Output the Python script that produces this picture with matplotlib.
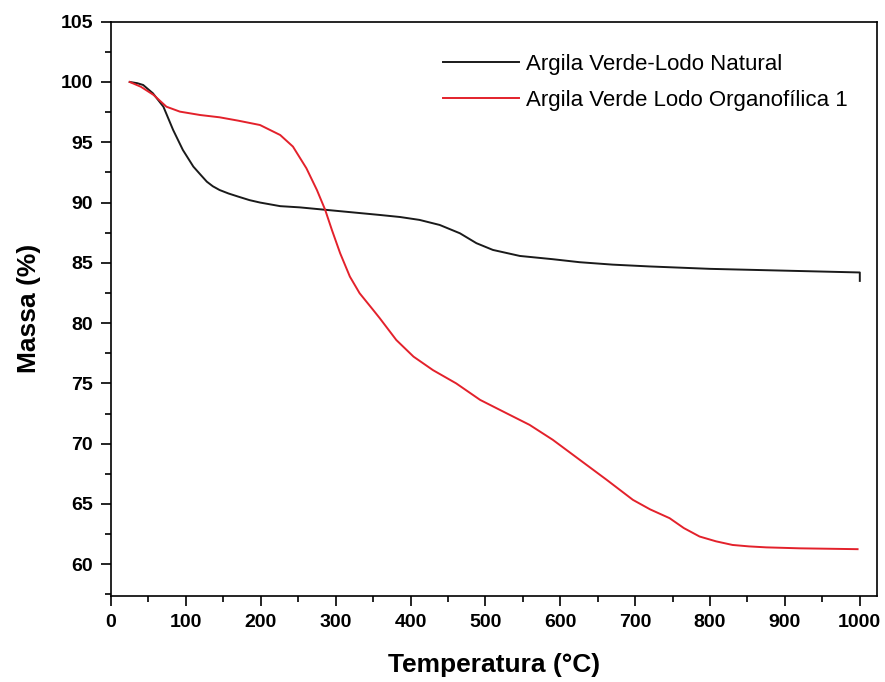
import numpy as np
import matplotlib.pyplot as plt
from matplotlib.ticker import MultipleLocator

plt.rcParams['font.family'] = ['Liberation Sans', 'DejaVu Sans']

# Argila Verde-Lodo Natural (curva preta)
temp_natural = [25, 35, 43, 56, 70, 83, 96, 110, 119, 128, 136, 145, 157, 170,
                185, 199, 226, 252, 286, 320, 359, 386, 412, 439, 466, 488,
                510, 546, 590, 626, 670, 719, 800, 900, 1000, 1000]
massa_natural = [100.0, 99.9, 99.75, 99.06, 97.95, 96.02, 94.36, 92.98, 92.35,
                 91.73, 91.35, 91.04, 90.75, 90.49, 90.2, 90.0, 89.7, 89.6,
                 89.4, 89.2, 88.97, 88.8, 88.56, 88.14, 87.45, 86.63, 86.07,
                 85.57, 85.3, 85.05, 84.85, 84.7, 84.5, 84.35, 84.2, 83.5]

# Argila Verde Lodo Organofilica 1 (curva vermelha)
temp_organo = [25, 40, 57, 74, 92, 119, 145, 170, 199, 226, 243, 261, 275, 286,
               295, 306, 319, 332, 350, 359, 381, 404, 430, 461, 493, 528, 559,
               590, 626, 662, 697, 720, 746, 765, 786, 808, 830, 852, 875, 920,
               997]
massa_organo = [100.0, 99.6, 98.92, 97.95, 97.54, 97.26, 97.07, 96.79, 96.43,
                95.6, 94.64, 92.84, 91.04, 89.4, 87.73, 85.8, 83.86, 82.48, 81.1,
                80.4, 78.6, 77.22, 76.1, 75.0, 73.63, 72.53, 71.56, 70.32, 68.66,
                67.0, 65.34, 64.55, 63.82, 63.0, 62.3, 61.9, 61.6, 61.48, 61.4,
                61.32, 61.25]

fig = plt.figure(figsize=(8.85, 6.82), dpi=100)
ax = fig.add_axes([0.1254, 0.1267, 0.8656, 0.8415])

ax.plot(temp_natural, massa_natural, color='#1a1a1a', lw=1.4,
        label='Argila Verde-Lodo Natural')
ax.plot(temp_organo, massa_organo, color='#e3212b', lw=1.4,
        label='Argila Verde Lodo Organofílica 1')

ax.set_xlim(0, 1023)
ax.set_ylim(57.4, 105)
ax.xaxis.set_major_locator(MultipleLocator(100))
ax.xaxis.set_minor_locator(MultipleLocator(50))
ax.yaxis.set_major_locator(MultipleLocator(5))
ax.yaxis.set_minor_locator(MultipleLocator(2.5))
ax.tick_params(which='both', direction='out', top=False, right=False, width=1.2)
ax.tick_params(which='major', length=7, labelsize=14, pad=6)
ax.tick_params(which='minor', length=4)
for lab in ax.get_xticklabels() + ax.get_yticklabels():
    lab.set_fontweight('bold')
for s in ax.spines.values():
    s.set_linewidth(1.2)

ax.set_xlabel('Temperatura (°C)', fontsize=19, fontweight='bold', labelpad=16)
ax.set_ylabel('Massa (%)', fontsize=19, fontweight='bold', labelpad=14)

ax.legend(loc='upper left', bbox_to_anchor=(0.4334, 0.944), frameon=False,
          fontsize=16, handlelength=3.4, handletextpad=0.32, labelspacing=0.67,
          borderpad=0, borderaxespad=0)

fig.savefig('out.png', dpi=100)
